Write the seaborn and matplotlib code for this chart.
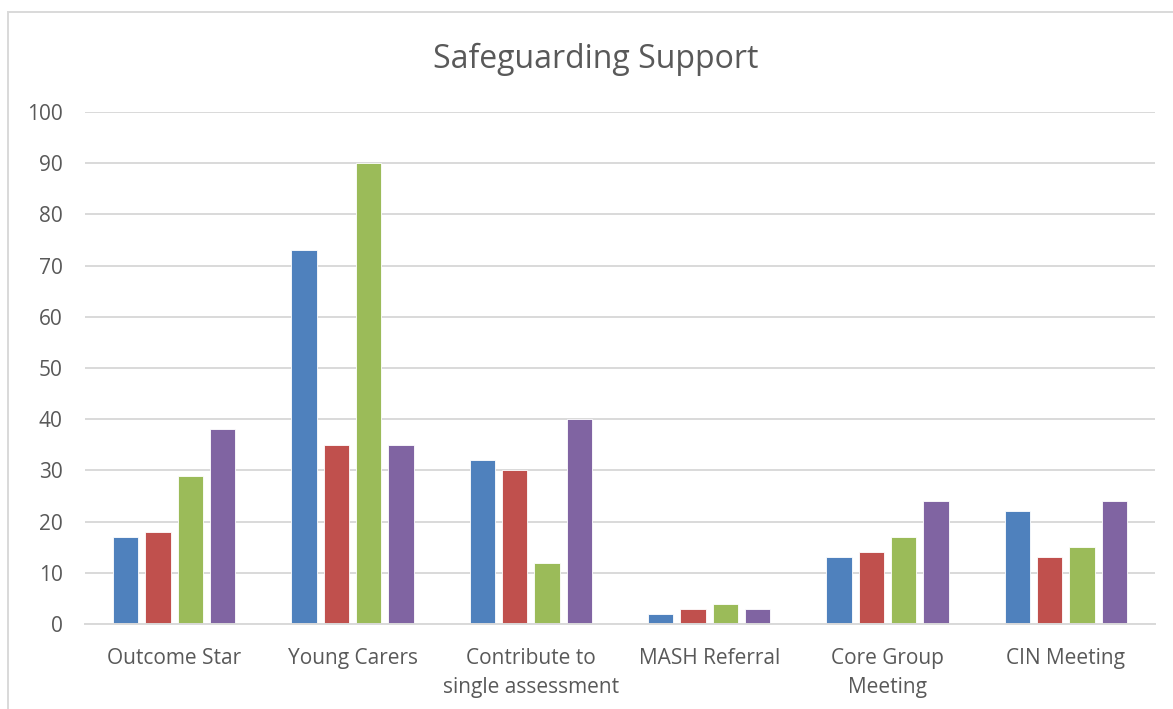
import matplotlib
matplotlib.use("Agg")
import matplotlib.pyplot as plt
from matplotlib.patches import Rectangle
import seaborn as sns
import pandas as pd

categories = ["Outcome Star", "Young Carers", "Contribute to\nsingle assessment",
              "MASH Referral", "Core Group\nMeeting", "CIN Meeting"]
series_names = ["Series 1", "Series 2", "Series 3", "Series 4"]
series_1 = [17, 73, 32, 2, 13, 22]
series_2 = [18, 35, 30, 3, 14, 13]
series_3 = [29, 90, 12, 4, 17, 15]
series_4 = [38, 35, 40, 3, 24, 24]
y_ticks = [0, 10, 20, 30, 40, 50, 60, 70, 80, 90, 100]
colors = ["#4F81BD", "#C0504D", "#9BBB59", "#8064A2"]

rows = []
for name, vals in zip(series_names, [series_1, series_2, series_3, series_4]):
    for cat, v in zip(categories, vals):
        rows.append({"category": cat, "series": name, "value": v})
df = pd.DataFrame(rows)

sns.set_theme(style="white")
plt.rcParams["font.family"] = ["Open Sans", "DejaVu Sans"]
text_color = "#595959"
grid_color = "#D9D9D9"

fig = plt.figure(figsize=(11.73, 7.09), dpi=100)
ax = fig.add_axes([85 / 1173, 1 - 624 / 709, (1155 - 85) / 1173, (624 - 112) / 709])

sns.barplot(data=df, x="category", y="value", hue="series", order=categories,
            hue_order=series_names, palette=colors, width=0.726, gap=0.22,
            legend=False, ax=ax, saturation=1, edgecolor="white", linewidth=0.6)

ax.set_ylim(0, 100)
ax.set_yticks(y_ticks)
ax.set_xlim(-0.5, len(categories) - 0.5)
ax.yaxis.grid(True, color=grid_color, linewidth=1.4)
ax.set_axisbelow(True)
for side in ["top", "right", "left"]:
    ax.spines[side].set_visible(False)
ax.spines["bottom"].set_color(grid_color)
ax.spines["bottom"].set_linewidth(1.4)
ax.set_xlabel("")
ax.set_ylabel("")
ax.tick_params(axis="both", length=0, labelsize=15, colors=text_color)
ax.tick_params(axis="y", pad=16)
ax.tick_params(axis="x", pad=17)
for lbl in ax.get_xticklabels():
    lbl.set_linespacing(1.5)
    lbl.set_verticalalignment("top")

fig.text(596 / 1173, 1 - 59 / 709, "Safeguarding Support", ha="center", va="center",
         fontsize=23, color=text_color)

# chart frame
fig.patches.append(Rectangle((8 / 1173, -0.2), 1.2, 1.2 - 12 / 709,
                             transform=fig.transFigure, fill=False,
                             edgecolor=grid_color, linewidth=1.4))

fig.savefig("out.png", dpi=100, facecolor="white")
